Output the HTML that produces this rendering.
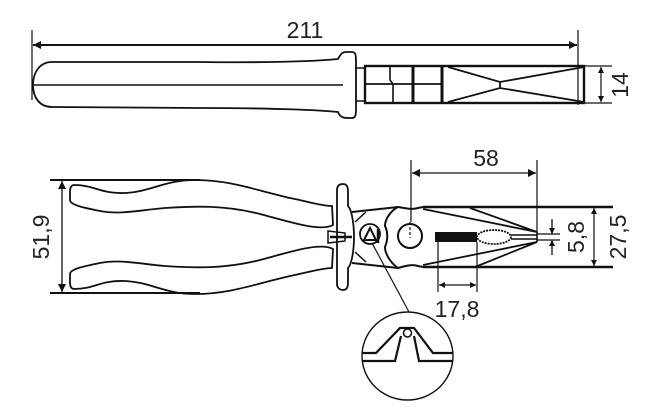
<!DOCTYPE html>
<html><head><meta charset="utf-8"><style>
html,body{margin:0;padding:0;background:#fff;}
svg{display:block;}
text{font-family:"Liberation Sans","DejaVu Sans",sans-serif;fill:#222;}
</style></head><body>
<svg width="665" height="414" viewBox="0 0 665 414" xmlns="http://www.w3.org/2000/svg">
<defs>
<marker id="a" viewBox="0 0 10 10" refX="10" refY="5" markerWidth="8" markerHeight="6" orient="auto-start-reverse" markerUnits="userSpaceOnUse"><path d="M0,0 L10,5 L0,10 z" fill="#111"/></marker>
<marker id="b" viewBox="0 0 10 10" refX="10" refY="5" markerWidth="15" markerHeight="8" orient="auto-start-reverse" markerUnits="userSpaceOnUse"><path d="M0,0 L10,5 L0,10 z" fill="#111"/></marker>
</defs>
<g stroke="#111" fill="none" stroke-width="1.8">
<line x1="32" y1="30" x2="32" y2="100" stroke-width="1.2"/>
<line x1="578" y1="30" x2="578" y2="105" stroke-width="1.2"/>
<line x1="33" y1="45" x2="577" y2="45" stroke-width="2" marker-start="url(#b)" marker-end="url(#b)"/>
<path d="M52,62 C40,62 33,72 33,85 C33,98 40,107 52,107 L200,108 C270,108 320,110 338,112 C340,118 345,118 348,118 L352,118 C356,118 356,114 356,108 L356,62 C356,56 356,52 352,52 L346,52 C341,52 340,56 338,59 C320,61 270,63 200,62 Z"/>
<line x1="34" y1="85" x2="343" y2="85" stroke-width="1.5"/>
<line x1="356" y1="68" x2="365" y2="68" stroke-width="1.5"/>
<line x1="356" y1="101" x2="365" y2="101" stroke-width="1.5"/>
<rect x="365" y="66" width="219" height="37" stroke-width="2.4"/>
<line x1="365" y1="84" x2="442" y2="84" stroke-width="1.8"/>
<path d="M390,66 L390,80 L393,84 L393,103" stroke-width="1.6"/>
<line x1="413" y1="66" x2="413" y2="103" stroke-width="3"/>
<line x1="442" y1="66" x2="442" y2="103" stroke-width="3"/>
<path d="M448,67 L500,82 L584,67 M448,102 L500,88 L584,102 M500,82 L500,88" stroke-width="1.8"/>
<line x1="584" y1="66" x2="612" y2="66" stroke-width="1.2"/>
<line x1="584" y1="103" x2="612" y2="103" stroke-width="1.2"/>
<line x1="601" y1="67" x2="601" y2="102" stroke-width="1.2" marker-start="url(#a)" marker-end="url(#a)"/>

<line x1="50" y1="180" x2="200" y2="180" stroke-width="2"/>
<line x1="50" y1="293" x2="200" y2="293" stroke-width="2"/>
<line x1="62" y1="181" x2="62" y2="292" stroke-width="1.3" marker-start="url(#b)" marker-end="url(#b)"/>
<path d="M74,185 C95,185 100,194 125,193 C150,192 165,180 195,180 C230,180 255,190 290,198 C310,202 322,206 332,206 L333,225 C320,232 290,222 260,214 C225,205 195,206 165,208 C140,210 120,215 100,211 C85,208 70,205 70,200 L70,191 C70,187 72,185 74,185 Z"/>
<path d="M74,289 C95,289 100,280 125,281 C150,282 165,294 195,294 C230,294 255,284 290,276 C310,272 322,268 332,268 L333,249 C320,242 290,252 260,260 C225,269 195,268 165,266 C140,264 120,259 100,263 C85,266 70,269 70,274 L70,283 C70,287 72,289 74,289 Z"/>
<path d="M337,190 C337,185 340,184 343,184 C347,184 348,187 348,191 L348,206 C352,210 354,225 354,237 C354,249 352,264 348,268 L348,283 C348,287 347,290 343,290 C340,290 337,288 337,284 Z"/>
<path d="M328,231 L345,233 L345,241 L328,243 Z" stroke-width="1.5"/>
<line x1="330" y1="237" x2="352" y2="237" stroke-width="2.5"/>
<path d="M352,212 L398,207 M352,263 L398,268" stroke-width="2"/>
<path d="M355,222 L366,212 M355,252 L366,262" stroke-width="1.5"/>
<circle cx="370" cy="234" r="10" stroke-width="1.8"/>
<path d="M364,240 L370,228 L376,240 Z" stroke-width="2"/>
<line x1="378" y1="229" x2="378" y2="243" stroke-width="2.5"/>
<path d="M423,207 L418,208 C412,210 405,208 398,207 C392,210 385,218 385,226 C388,232 388,240 385,247 C385,255 392,264 398,268 C405,266 412,264 418,266 L423,267" stroke-width="2"/>
<circle cx="410" cy="236" r="12" stroke-width="2"/>
<line x1="410" y1="222" x2="410" y2="238" stroke-width="1.2" stroke-dasharray="3,2"/>
<line x1="423" y1="207" x2="613" y2="207" stroke-width="2.4"/>
<line x1="423" y1="267" x2="613" y2="267" stroke-width="2.4"/>
<path d="M423,209 L537,232 M470,208 L537,232 M423,265 L537,242 M475,267 L537,242" stroke-width="1.8"/>
<rect x="435" y="232" width="42" height="10" fill="#111" stroke="none"/>
<ellipse cx="494" cy="237" rx="17" ry="7" stroke-width="1.8" stroke-dasharray="2,1"/>
<path d="M511,235 L537,235 M511,239 L537,239 M537,232 L537,242" stroke-width="1.6"/>
<line x1="411" y1="160" x2="411" y2="222" stroke-width="1.2"/>
<line x1="537" y1="160" x2="537" y2="232" stroke-width="1.2"/>
<line x1="412" y1="173" x2="536" y2="173" stroke-width="1.3" marker-start="url(#b)" marker-end="url(#b)"/>
<line x1="438" y1="242" x2="438" y2="292" stroke-width="1.2"/>
<line x1="477" y1="242" x2="477" y2="292" stroke-width="1.2"/>
<line x1="439" y1="285" x2="476" y2="285" stroke-width="1.2" marker-start="url(#a)" marker-end="url(#a)"/>
<line x1="537" y1="234" x2="560" y2="234" stroke-width="1.2"/>
<line x1="537" y1="240" x2="560" y2="240" stroke-width="1.2"/>
<line x1="552" y1="219" x2="552" y2="234" stroke-width="1.3" marker-end="url(#a)"/>
<line x1="552" y1="255" x2="552" y2="240" stroke-width="1.3" marker-end="url(#a)"/>
<line x1="594" y1="208" x2="594" y2="266" stroke-width="1.2" marker-start="url(#a)" marker-end="url(#a)"/>
<line x1="372" y1="243" x2="409" y2="312" stroke-width="1.2"/>
<ellipse cx="407.5" cy="356" rx="45.5" ry="44" stroke-width="1.4"/>
<path d="M362,353 L376,353 L400,328 L414,328 L433,353 L453,353" stroke-width="2.2"/>
<path d="M362,361 L395,361 L401,336 M414,336 L419,361 L453,361" stroke-width="2.2"/>
<circle cx="407.5" cy="333" r="4" stroke-width="1.5"/>
</g>
<g font-size="23">
<text x="305" y="38" text-anchor="middle">211</text>
<text x="486" y="166" text-anchor="middle">58</text>
<text x="457" y="317" text-anchor="middle">17,8</text>
<text transform="translate(628,85) rotate(-90)" text-anchor="middle">14</text>
<text transform="translate(49,237) rotate(-90)" text-anchor="middle">51,9</text>
<text transform="translate(584,237) rotate(-90)" text-anchor="middle">5,8</text>
<text transform="translate(626,237) rotate(-90)" text-anchor="middle">27,5</text>
</g>
</svg>
</body></html>
